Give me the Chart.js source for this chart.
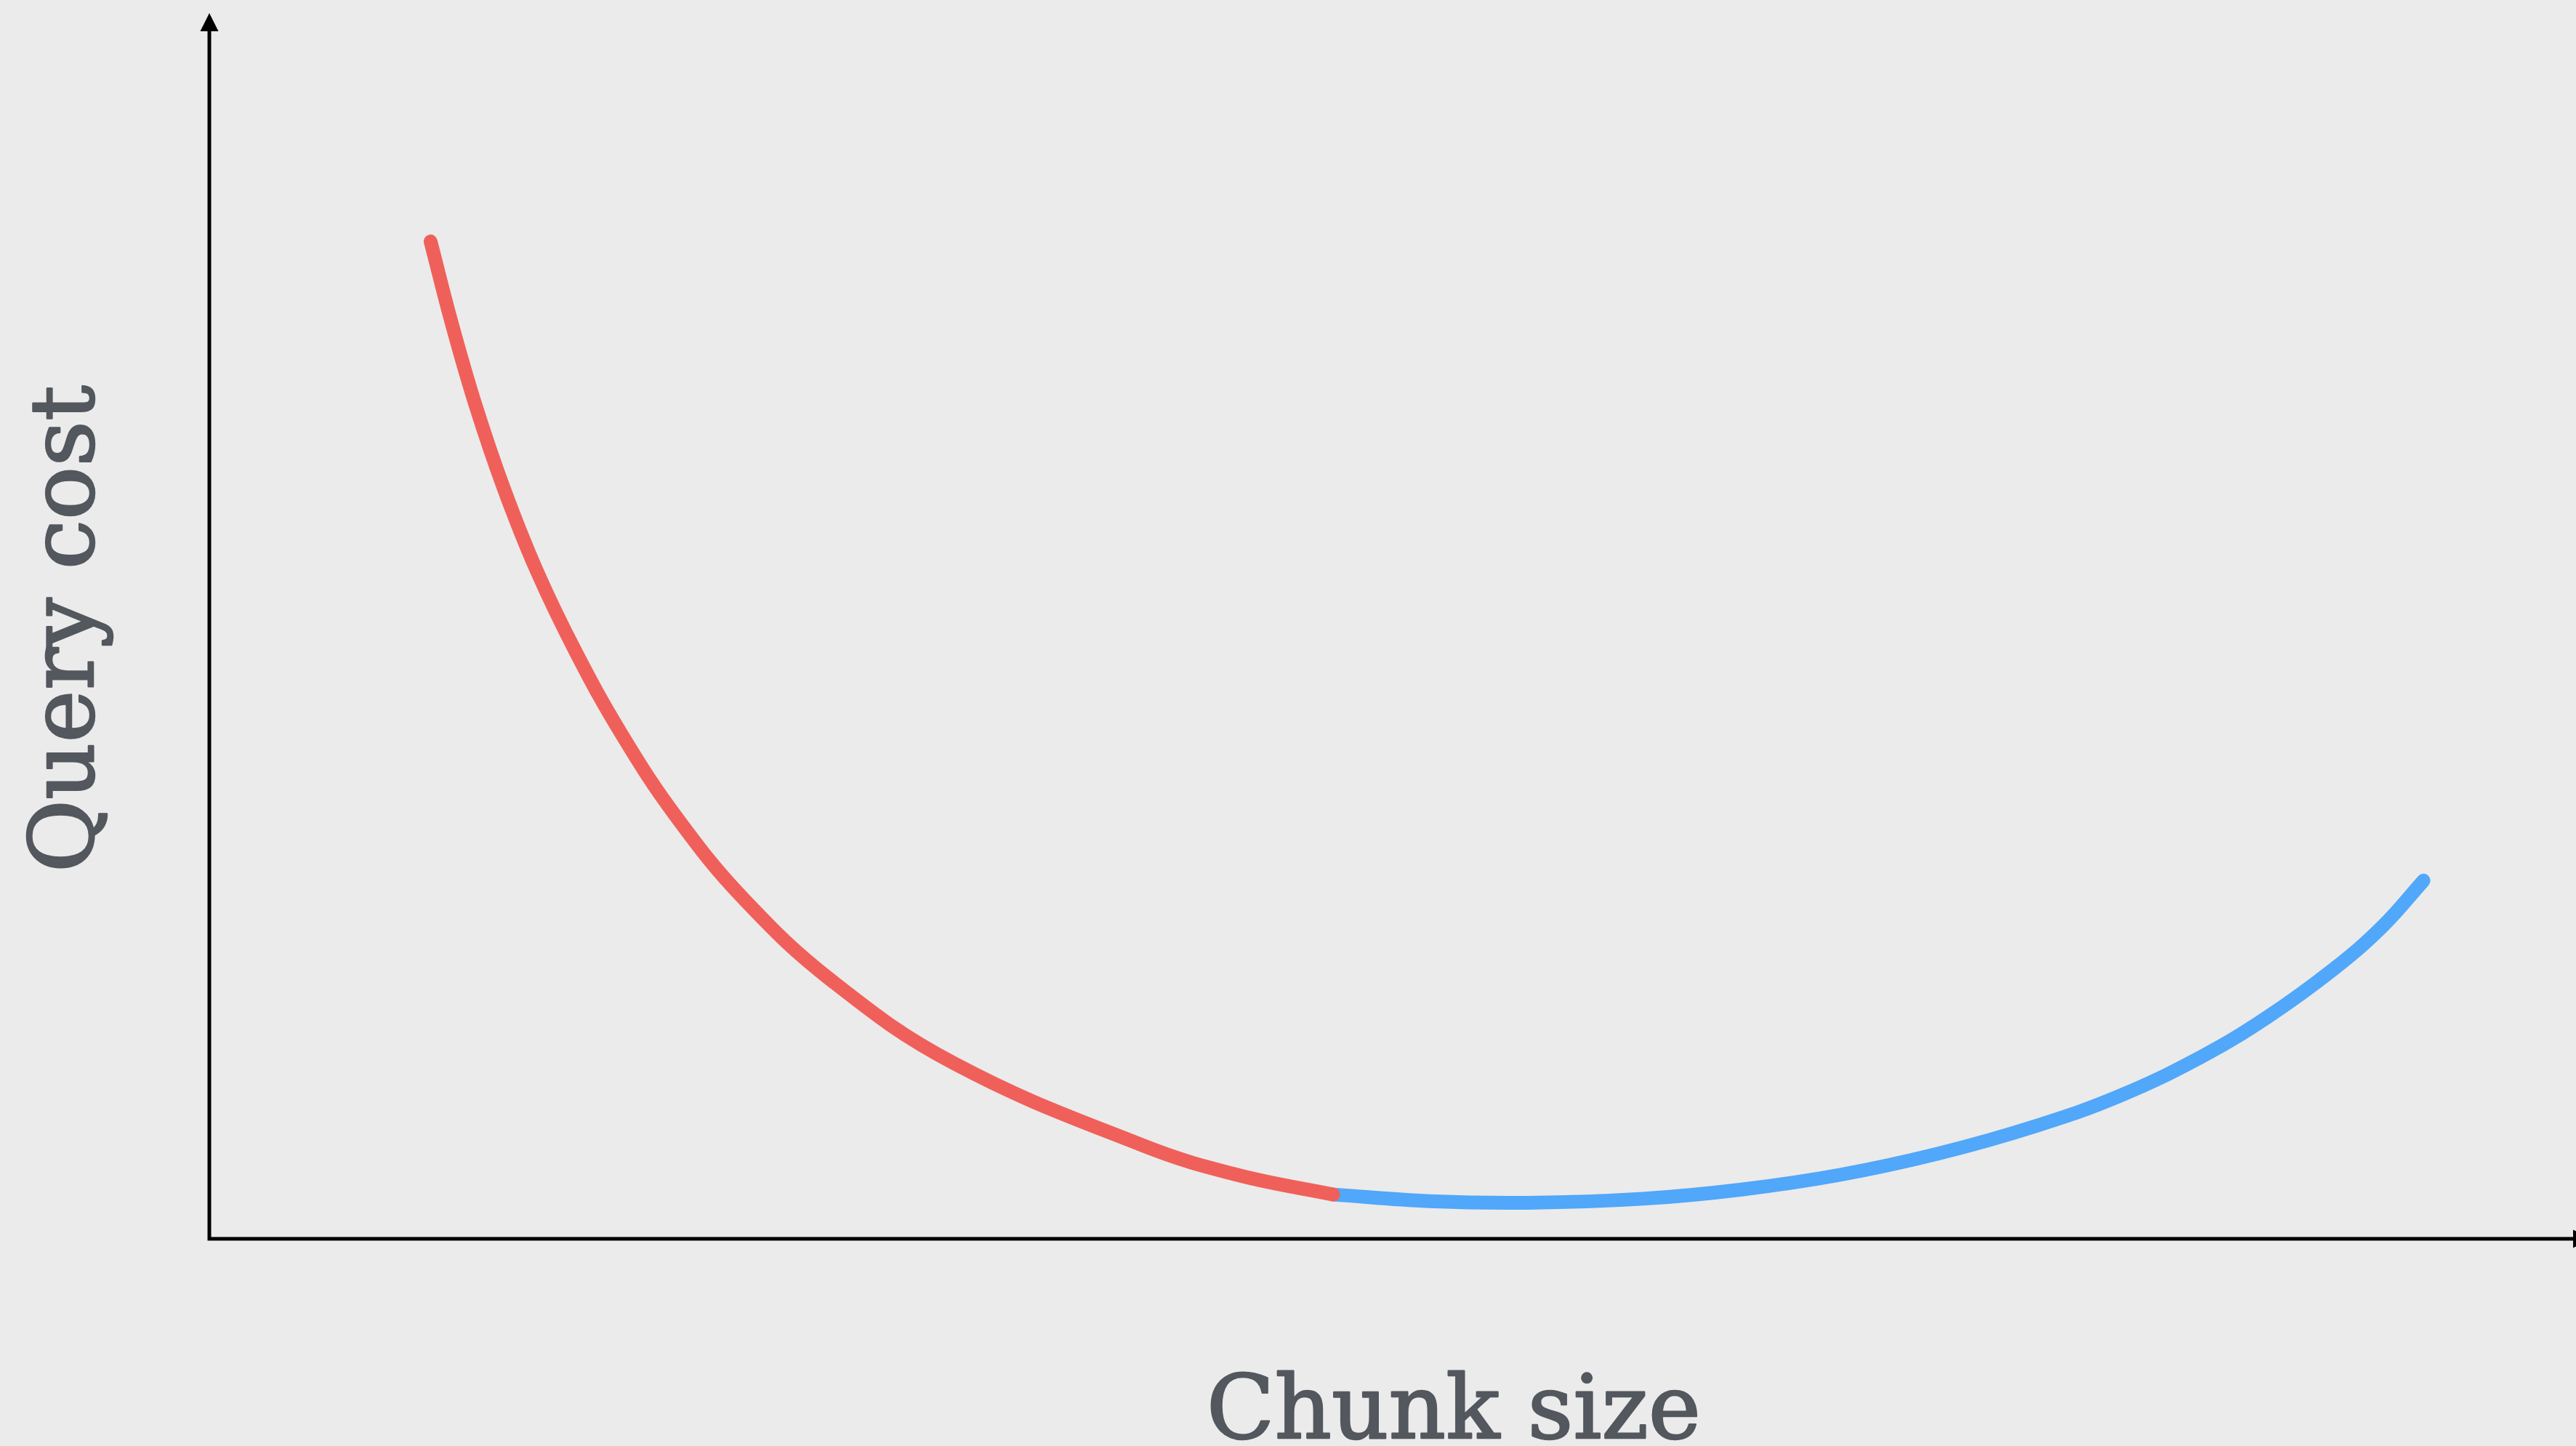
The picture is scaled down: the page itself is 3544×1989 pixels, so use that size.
<!DOCTYPE html>
<html>
<head>
<meta charset="utf-8">
<script src="https://cdn.jsdelivr.net/npm/chart.js@4/dist/chart.umd.min.js"></script>
<style>
html,body{margin:0;padding:0;background:#ebebeb;}
#wrap{width:3544px;height:1989px;position:relative;}
</style>
</head>
<body>
<div id="wrap"><canvas id="c" width="3544" height="1989"></canvas></div>
<script>
// Data (relative units: x = chunk size, y = query cost)
const redX = [9.36, 10.26, 11.27, 12.45, 13.84, 15.51, 17.45, 19.75, 22.60, 26.35, 31.49, 39.48, 43.48, 47.55];
const redY = [81.37, 74.66, 67.96, 61.26, 54.55, 47.85, 41.14, 34.44, 27.74, 21.03, 14.33, 7.63, 5.22, 3.61];
const blueX = [47.55, 51.61, 55.78, 60.65, 64.82, 68.99, 73.16, 77.33, 80.81, 84.29, 87.07, 89.85, 91.93, 93.67];
const blueY = [3.61, 3.07, 2.94, 3.27, 4.02, 5.22, 6.96, 9.24, 11.65, 14.87, 18.09, 21.97, 25.47, 29.22];
const xTitle = "Chunk size";
const yTitle = "Query cost";

const toPts = (xs, ys) => xs.map((x, i) => ({x: x, y: ys[i]}));

const axesPlugin = {
  id: 'axesArrows',
  afterDraw(chart) {
    const ctx = chart.ctx;
    const xs = chart.scales.x, ys = chart.scales.y;
    const x0 = xs.getPixelForValue(0), x1 = xs.getPixelForValue(100);
    const y0 = ys.getPixelForValue(0), y1 = ys.getPixelForValue(100);
    ctx.save();
    ctx.strokeStyle = '#000';
    ctx.fillStyle = '#000';
    ctx.lineWidth = 5;
    ctx.beginPath();
    ctx.moveTo(x0, y0 + 2.5);
    ctx.lineTo(x0, y1 + 20);
    ctx.moveTo(x0 - 2.5, y0);
    ctx.lineTo(x1, y0);
    ctx.stroke();
    ctx.beginPath();
    ctx.moveTo(x0, y1);
    ctx.lineTo(x0 - 12.5, y1 + 25);
    ctx.lineTo(x0 + 12.5, y1 + 25);
    ctx.closePath();
    ctx.fill();
    ctx.beginPath();
    ctx.moveTo(x1 + 25, y0);
    ctx.lineTo(x1, y0 - 12.5);
    ctx.lineTo(x1, y0 + 12.5);
    ctx.closePath();
    ctx.fill();
    // titles
    ctx.fillStyle = '#53575e';
    ctx.strokeStyle = '#53575e';
    ctx.lineWidth = 2.5;
    ctx.lineJoin = 'round';
    ctx.font = '122px "DejaVu Serif"';
    ctx.textAlign = 'center';
    ctx.textBaseline = 'alphabetic';
    ctx.fillText(xTitle, 2000, 1978);
    ctx.strokeText(xTitle, 2000, 1978);
    ctx.translate(128, 865);
    ctx.rotate(-Math.PI / 2);
    ctx.fillText(yTitle, 0, 0);
    ctx.strokeText(yTitle, 0, 0);
    ctx.restore();
  }
};

new Chart(document.getElementById('c'), {
  type: 'line',
  data: {
    datasets: [
      {data: toPts(redX, redY), borderColor: '#f0605a', borderWidth: 19, pointRadius: 0, tension: 0.4, borderCapStyle: 'round', borderJoinStyle: 'round', fill: false},
      {data: toPts(blueX, blueY), borderColor: '#51a7f9', borderWidth: 19, pointRadius: 0, tension: 0.4, borderCapStyle: 'round', borderJoinStyle: 'round', fill: false}
    ]
  },
  options: {
    responsive: false,
    animation: false,
    devicePixelRatio: 1,
    layout: {padding: {left: 288, top: 18, right: 4, bottom: 285}},
    plugins: {legend: {display: false}, tooltip: {enabled: false}},
    scales: {
      x: {type: 'linear', min: 0, max: 100, display: false},
      y: {type: 'linear', min: 0, max: 100, display: false}
    }
  },
  plugins: [axesPlugin]
});
</script>
</body>
</html>
